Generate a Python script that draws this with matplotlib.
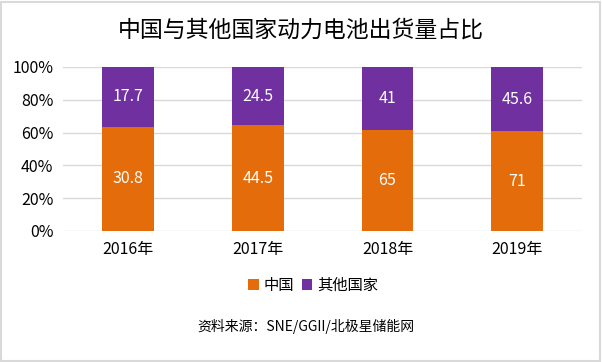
import numpy as np
import matplotlib
matplotlib.use('Agg')
from matplotlib import pyplot as plt
from matplotlib.patches import Rectangle

plt.rcParams['font.family'] = ['Noto Sans CJK SC', 'DejaVu Sans']

years = ['2016年', '2017年', '2018年', '2019年']
china = [30.8, 44.5, 65, 71]
others = [17.7, 24.5, 41, 45.6]
series_names = ['中国', '其他国家']
colors = ['#E46C0A', '#7030A0']

china = np.array(china)
others = np.array(others)
total = china + others
china_pct = china / total * 100
others_pct = others / total * 100

fig = plt.figure(figsize=(6.02, 3.62), dpi=100)
ax = fig.add_axes([0.105, 0.362, 0.862, 0.453])

x = np.arange(len(years))
b1 = ax.bar(x, china_pct, width=0.4, color=colors[0], label=series_names[0], zorder=3)
b2 = ax.bar(x, others_pct, width=0.4, bottom=china_pct, color=colors[1], label=series_names[1], zorder=3)

# value labels in the middle of each segment
for i in range(len(years)):
    ax.text(x[i], china_pct[i] / 2, '%g' % china[i], ha='center', va='center',
            color='white', fontsize=11.5, zorder=4)
    ax.text(x[i], china_pct[i] + others_pct[i] / 2, '%g' % others[i], ha='center', va='center',
            color='white', fontsize=11.5, zorder=4)

ax.set_xlim(-0.5, len(years) - 0.5)
ax.set_ylim(0, 100)
ax.set_yticks(np.arange(0, 101, 20))
ax.set_yticklabels(['%d%%' % v for v in range(0, 101, 20)])
ax.set_xticks(x)
ax.set_xticklabels(years)
ax.tick_params(axis='both', length=0, labelsize=11.5, colors='#000000')
ax.tick_params(axis='x', pad=7)
ax.tick_params(axis='y', pad=7)
ax.grid(axis='y', color='#D9D9D9', linewidth=1, zorder=0)
for s in ax.spines.values():
    s.set_visible(False)

fig.text(0.5, 0.918, '中国与其他国家动力电池出货量占比', ha='center', va='center', fontsize=16.5)

fig.legend(handles=[b1, b2], labels=series_names, loc='center', bbox_to_anchor=(0.52, 0.212),
           ncol=2, frameon=False, fontsize=11, handlelength=0.7, handleheight=0.7,
           handletextpad=0.3, columnspacing=0.5)

fig.text(0.508, 0.097, '资料来源：SNE/GGII/北极星储能网', ha='center', va='center', fontsize=10)

# light gray frame around the whole picture
fig.patches.append(Rectangle((0.002, 0.003), 0.994, 0.992, transform=fig.transFigure,
                             fill=False, edgecolor='#D9D9D9', linewidth=1.5))

fig.savefig('out.png', dpi=100)
